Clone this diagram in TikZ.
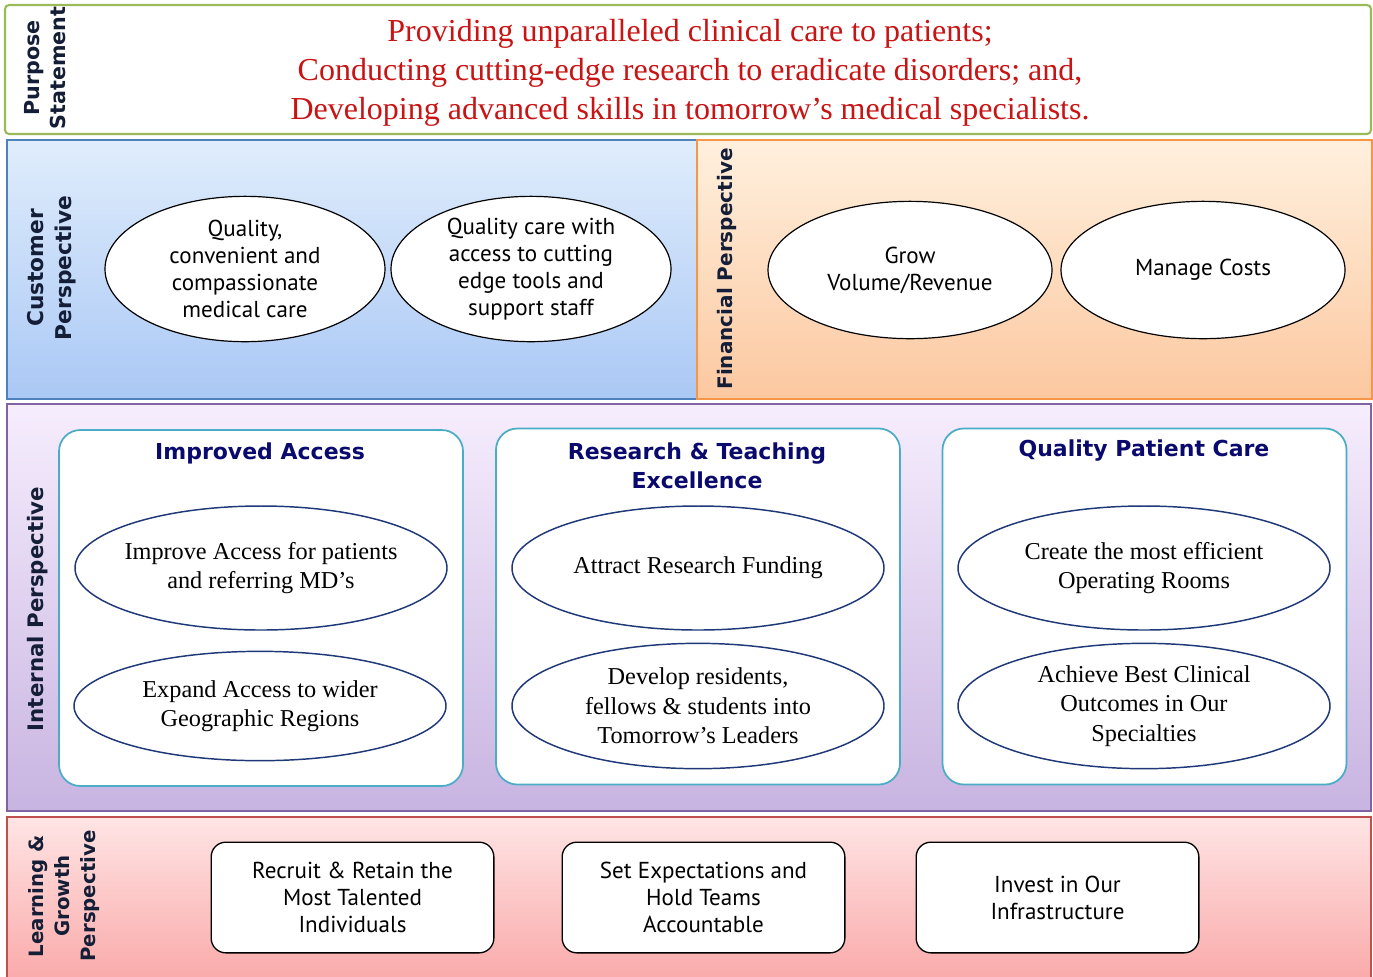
\documentclass[tikz,border=0pt]{standalone}
\usepackage{fontspec}
\setmainfont{Liberation Serif}
\newfontfamily\tahomafont{PT Sans}
\newfontfamily\verdanafont{DejaVu Sans}
\usetikzlibrary{shapes.geometric}

\definecolor{purposered}{RGB}{200,20,20}
\definecolor{labelnavy}{RGB}{20,30,55}
\definecolor{titlenavy}{RGB}{10,10,110}
\definecolor{ovalnavy}{RGB}{31,56,120}
\definecolor{themecyan}{RGB}{75,172,198}
\definecolor{greenline}{RGB}{155,187,89}
\definecolor{blueline}{RGB}{79,129,189}
\definecolor{orangeline}{RGB}{247,150,70}
\definecolor{purpleline}{RGB}{128,100,162}
\definecolor{redline}{RGB}{192,80,77}

\tikzset{
  band/.style={line width=1.6pt},
  sidelabel/.style={rotate=90, align=center, text=labelnavy,
    font=\verdanafont\bfseries\fontsize{16}{20}\selectfont},
  oval/.style={ellipse, draw=black, line width=0.9pt, fill=white, inner sep=0pt,
    align=center, font=\tahomafont\fontsize{17.3}{20.25}\selectfont},
  goal/.style={ellipse, draw=ovalnavy, line width=1.1pt, fill=white, inner ysep=0pt,
    inner xsep=-30pt, minimum width=279pt, align=center, font=\fontsize{18.2}{22}\selectfont},
  themebox/.style={draw=themecyan, line width=1.3pt, fill=white, rounded corners=16pt,
    minimum width=303pt, minimum height=267pt},
  themetitle/.style={align=center, text=titlenavy,
    font=\verdanafont\bfseries\fontsize{16.5}{21.75}\selectfont},
  learnbox/.style={draw=black, line width=1pt, fill=white, rounded corners=11pt,
    minimum width=212pt, minimum height=83pt, align=center,
    font=\tahomafont\fontsize{17.3}{20.25}\selectfont},
}

\begin{document}
\begin{tikzpicture}[x=0.75pt, y=-0.75pt]
  \useasboundingbox (0,0) rectangle (1373,976);

  % bands
  \draw [band, draw=greenline, fill=white, rounded corners=3pt] (5,5) rectangle (1371,134);
  \draw [band, draw=blueline, top color={rgb,255:red,224;green,237;blue,252}, bottom color={rgb,255:red,170;green,200;blue,245}] (7,140) rectangle (697,399);
  \draw [band, draw=orangeline, top color={rgb,255:red,255;green,240;blue,222}, bottom color={rgb,255:red,252;green,200;blue,160}] (697,140) rectangle (1372,399);
  \draw [band, draw=purpleline, top color={rgb,255:red,246;green,237;blue,253}, bottom color={rgb,255:red,200;green,180;blue,225}] (7,404) rectangle (1371,811);
  \draw [band, draw=redline, top color={rgb,255:red,255;green,228;blue,228}, bottom color={rgb,255:red,250;green,170;blue,170}] (7,817) rectangle (1371,980);

  % side labels
  \node [sidelabel, font=\verdanafont\bfseries\fontsize{15.5}{19}\selectfont] (purposelbl) at (45,68) {Purpose\\Statement};
  \node [sidelabel, font=\verdanafont\bfseries\fontsize{16.3}{21}\selectfont] (custlbl) at (52,268) {Customer\\Perspective};
  \node [sidelabel, font=\verdanafont\bfseries\fontsize{15}{20}\selectfont] (finlbl) at (727,269) {Financial Perspective};
  \node [sidelabel] (intlbl) at (38,609) {Internal Perspective};
  \node [sidelabel, font=\verdanafont\bfseries\fontsize{14.8}{19.5}\selectfont] (learnlbl) at (64,896) {Learning \&\\Growth\\Perspective};

  % purpose
  \node [align=center, text=purposered, font=\fontsize{24}{29.25}\selectfont] (purpose) at (690,73)
    {Providing unparalleled clinical care to patients;\\
     Conducting cutting-edge research to eradicate disorders; and,\\
     Developing advanced skills in tomorrow’s medical specialists.};

  % customer & financial
  \node [oval, minimum width=210pt, minimum height=109pt] (quality) at (245,269) {Quality,\\convenient and\\compassionate\\medical care};
  \node [oval, minimum width=210pt, minimum height=109pt] (cutting) at (531,269) {Quality care with\\access to cutting\\edge tools and\\support staff};
  \node [oval, minimum width=213pt, minimum height=103pt] (grow) at (910,270) {Grow\\Volume/Revenue};
  \node [oval, minimum width=213pt, minimum height=103pt] (costs) at (1203,270) {Manage Costs};

  % internal
  \node [themebox] (access) at (261,608) {};
  \node [themebox] (research) at (698,606.5) {};
  \node [themebox] (care) at (1144.5,606.5) {};
  \node [themetitle] (accesstitle) at (260,453) {Improved Access};
  \node [themetitle] (researchtitle) at (697,465.5) {Research \& Teaching\\Excellence};
  \node [themetitle] (caretitle) at (1144,451) {Quality Patient Care};

  \node [goal, minimum height=93pt] (patients) at (261,568) {Improve Access for patients\\and referring MD’s};
  \node [goal, minimum height=82pt] (regions) at (260,706) {Expand Access to wider\\Geographic Regions};
  \node [goal, minimum height=93pt] (funding) at (698,568) {Attract Research Funding};
  \node [goal, minimum height=94pt] (leaders) at (698,706) {Develop residents,\\fellows \& students into\\Tomorrow’s Leaders};
  \node [goal, minimum height=93pt] (rooms) at (1144,568) {Create the most efficient\\Operating Rooms};
  \node [goal, minimum height=94pt] (outcomes) at (1144,706) {Achieve Best Clinical\\Outcomes in Our\\Specialties};

  % learning & growth
  \node [learnbox] (recruit) at (352.5,897.5) {Recruit \& Retain the\\Most Talented\\Individuals};
  \node [learnbox] (teams) at (703.5,897.5) {Set Expectations and\\Hold Teams\\Accountable};
  \node [learnbox] (invest) at (1057.5,897.5) {Invest in Our\\Infrastructure};
\end{tikzpicture}
\end{document}
